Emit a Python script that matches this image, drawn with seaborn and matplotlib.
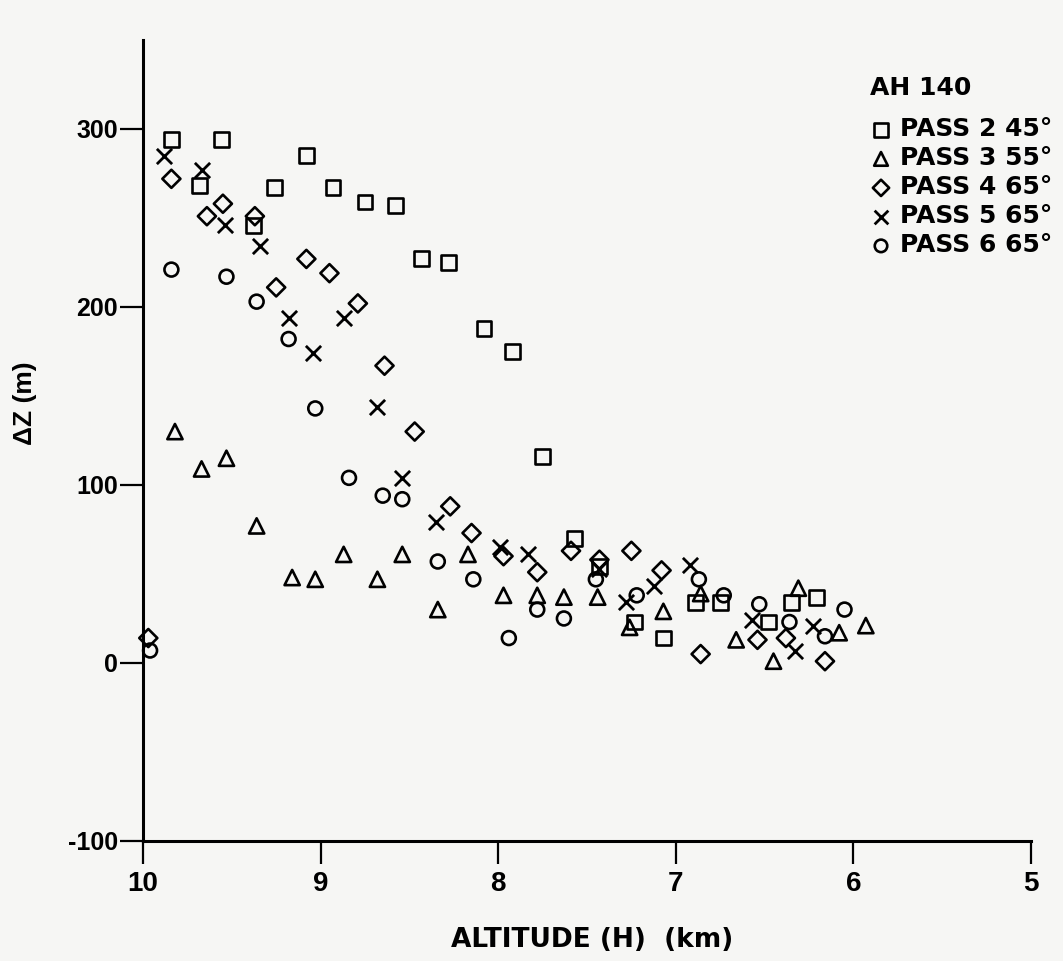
import matplotlib
matplotlib.use("Agg")
import matplotlib.pyplot as plt
import seaborn as sns
import pandas as pd

# ---- data ----
pass2_alt = [9.84, 9.56, 9.08, 9.68, 9.26, 8.93, 8.75, 8.58, 9.38, 8.43, 8.28, 8.08,
             7.92, 7.75, 7.57, 7.43, 7.23, 7.07, 6.89, 6.75, 6.48, 6.35, 6.21]
pass2_dz = [294, 294, 285, 268, 267, 267, 259, 257, 246, 227, 225, 188,
            175, 116, 70, 54, 23, 14, 34, 34, 23, 34, 37]

pass3_alt = [9.82, 9.67, 9.53, 9.36, 9.16, 9.03, 8.87, 8.68, 8.54, 8.34, 8.17, 7.97,
             7.78, 7.63, 7.44, 7.26, 7.07, 6.86, 6.66, 6.45, 6.31, 6.08, 5.93]
pass3_dz = [130, 109, 115, 77, 48, 47, 61, 47, 61, 30, 61, 38,
            38, 37, 37, 20, 29, 39, 13, 1, 42, 17, 21]

pass4_alt = [9.84, 9.55, 9.64, 9.37, 9.08, 8.95, 9.25, 8.79, 8.64, 8.47, 8.27, 8.15,
             7.97, 7.78, 7.59, 7.43, 9.97, 7.25, 7.08, 6.86, 6.54, 6.38, 6.16]
pass4_dz = [272, 258, 251, 251, 227, 219, 211, 202, 167, 130, 88, 73,
            60, 51, 63, 58, 14, 63, 52, 5, 13, 14, 1]

pass5_alt = [9.88, 9.67, 9.54, 9.34, 9.18, 8.87, 9.04, 8.68, 8.54, 8.35, 7.99, 7.83,
             7.43, 7.28, 7.12, 6.92, 6.57, 6.23, 6.33]
pass5_dz = [285, 277, 246, 234, 194, 194, 174, 144, 104, 79, 65, 61,
            53, 34, 43, 55, 24, 21, 7]

pass6_alt = [9.84, 9.53, 9.36, 9.18, 9.03, 8.84, 8.65, 8.54, 8.34, 8.14, 7.94, 7.78,
             7.63, 7.45, 9.96, 7.22, 6.87, 6.73, 6.53, 6.36, 6.16, 6.05]
pass6_dz = [221, 217, 203, 182, 143, 104, 94, 92, 57, 47, 14, 30,
            25, 47, 7, 38, 47, 38, 33, 23, 15, 30]

series_labels = ["PASS 2 45\u00b0", "PASS 3 55\u00b0", "PASS 4 65\u00b0",
                 "PASS 5 65\u00b0", "PASS 6 65\u00b0"]
x_ticks = [10, 9, 8, 7, 6, 5]
y_ticks = [-100, 0, 100, 200, 300]
legend_title = "AH 140"

series = [
    (pass2_alt, pass2_dz, "s", 115),
    (pass3_alt, pass3_dz, "^", 120),
    (pass4_alt, pass4_dz, "D", 85),
    (pass5_alt, pass5_dz, "x", 120),
    (pass6_alt, pass6_dz, "o", 100),
]

sns.set_theme(style="white")
plt.rcParams["font.family"] = ["DejaVu Sans"]
for k in ["text.color", "axes.labelcolor", "xtick.color", "ytick.color", "axes.edgecolor"]:
    plt.rcParams[k] = "black"

bg = "#f6f6f4"
fig = plt.figure(figsize=(10.63, 9.61), dpi=100, facecolor=bg)
ax = fig.add_axes([0.1345, 0.1249, 0.8354, 0.8335])
ax.set_facecolor(bg)

for (alt, dz, mk, sz), lab in zip(series, series_labels):
    df = pd.DataFrame({"alt": alt, "dz": dz})
    if mk == "x":
        sns.scatterplot(data=df, x="alt", y="dz", marker=mk, s=sz, color="black",
                        linewidth=2.0, ax=ax, label=lab, clip_on=False, zorder=3)
    else:
        sns.scatterplot(data=df, x="alt", y="dz", marker=mk, s=sz, facecolor="none",
                        edgecolor="black", linewidth=1.9, ax=ax, label=lab,
                        clip_on=False, zorder=3)

ax.set_xlim(10, 5)
ax.set_ylim(-100, 350)
ax.set_xticks(x_ticks)
ax.set_yticks(y_ticks)
ax.set_xticklabels([str(t) for t in x_ticks], fontfamily="Liberation Sans",
                   fontweight="bold", fontsize=20)
ax.set_yticklabels([str(t) for t in y_ticks], fontfamily="Liberation Sans",
                   fontweight="bold", fontsize=18)
ax.tick_params(axis="both", direction="out", length=16.5, width=1.6, color="black",
               bottom=True, left=True)
ax.tick_params(axis="x", pad=5)
ax.tick_params(axis="y", pad=1.5)
for side in ["top", "right"]:
    ax.spines[side].set_visible(False)
for side in ["left", "bottom"]:
    ax.spines[side].set_linewidth(2.2)
    ax.spines[side].set_color("black")

ax.set_xlabel("ALTITUDE (H)  (km)", fontfamily="DejaVu Sans", fontweight="bold",
              fontsize=19)
ax.xaxis.set_label_coords(0.506, -0.108)
ax.set_ylabel("\u0394Z (m)", fontfamily="Liberation Sans", fontweight="bold",
              fontsize=19)
ax.yaxis.label.set_va("center")
ax.yaxis.set_label_coords(-0.133, 0.546)
ax.grid(False)

handles, labels = ax.get_legend_handles_labels()
if ax.get_legend():
    ax.get_legend().remove()
fig.text(870 / 1063, 1 - 88 / 961, legend_title, ha="left", va="center",
         fontfamily="DejaVu Sans", fontweight="bold", fontsize=18)
leg = fig.legend(handles, labels, loc="upper left",
                 bbox_to_anchor=(0.8088, 0.8908), frameon=False,
                 prop={"family": "DejaVu Sans", "weight": "bold", "size": 18},
                 handlelength=0.7, handletextpad=0.4,
                 labelspacing=0.2, markerscale=0.9, borderpad=0)

fig.savefig("out.png", dpi=100, facecolor=bg)
